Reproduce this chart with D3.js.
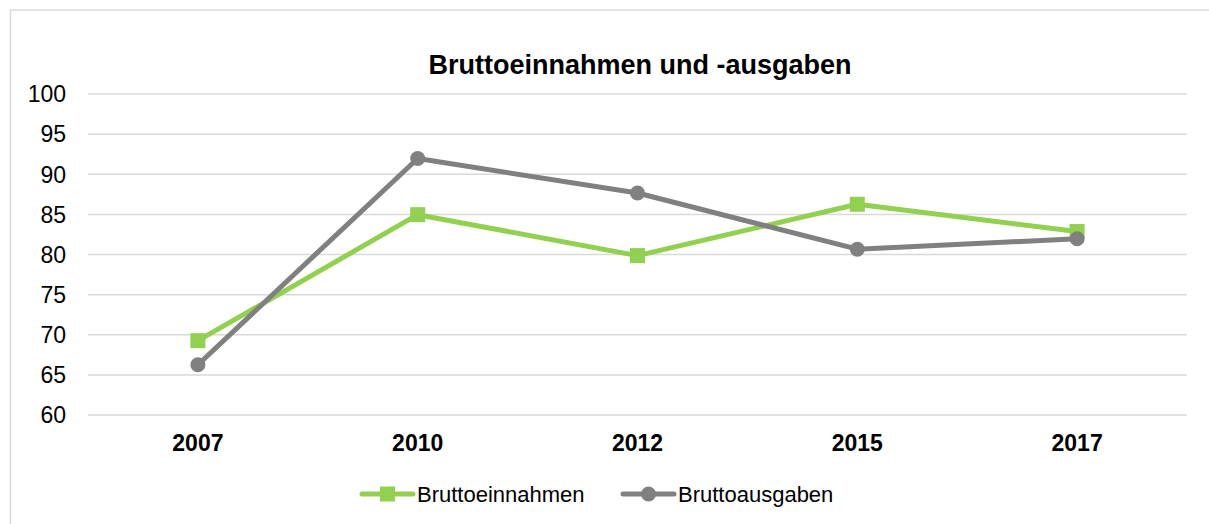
<!DOCTYPE html>
<html>
<head>
  <meta charset="utf-8">
  <script src="https://d3js.org/d3.v7.min.js"></script>
  <style>
    body { margin: 0; background: #fff; }
    text { font-family: "Liberation Sans", Arial, sans-serif; fill: #000; }
  </style>
</head>
<body>
  <script type="text/javascript">
    "use strict";

    // data
    var years = ["2007", "2010", "2012", "2015", "2017"];
    var einnahmen = [69.2, 84.9, 79.8, 86.2, 82.8];
    var ausgaben = [66.2, 91.9, 87.6, 80.6, 81.9];
    var yTicks = [60, 65, 70, 75, 80, 85, 90, 95, 100];
    var seriesNames = ["Bruttoeinnahmen", "Bruttoausgaben"];
    var seriesColors = ["#92D050", "#808080"];

    var W = 1209, H = 524;
    var plotLeft = 88, plotRight = 1187, plotTop = 93.5, plotBottom = 414.5;

    var svg = d3.select("body")
      .append("svg")
        .attr("width", W)
        .attr("height", H);

    // chart frame (only top and left are inside the window)
    svg.append("rect")
      .attr("x", 10.5).attr("y", 10)
      .attr("width", W + 20).attr("height", H + 20)
      .attr("fill", "none")
      .attr("stroke", "#d9d9d9")
      .attr("stroke-width", 1.5);

    svg.append("text")
      .attr("x", 640)
      .attr("y", 74)
      .attr("text-anchor", "middle")
      .style("font-size", "27px")
      .style("font-weight", "bold")
      .text("Bruttoeinnahmen und -ausgaben");

    var x = d3.scaleBand().domain(years).range([plotLeft, plotRight]);
    var y = d3.scaleLinear().domain([60, 100]).range([plotBottom, plotTop]);

    // y axis with gridlines
    var yAxis = svg.append("g")
      .attr("transform", "translate(" + plotLeft + ",0)")
      .call(d3.axisLeft(y).tickValues(yTicks).tickSize(-(plotRight - plotLeft)).tickPadding(22));
    yAxis.select(".domain").remove();
    yAxis.selectAll("line").attr("stroke", "#d9d9d9").attr("stroke-width", 1.5);
    yAxis.selectAll("text").style("font-size", "23px").attr("dy", "0.36em");

    // x axis
    var xAxis = svg.append("g")
      .attr("transform", "translate(0," + plotBottom + ")")
      .call(d3.axisBottom(x).tickSize(0).tickPadding(20));
    xAxis.select(".domain").remove();
    xAxis.selectAll("text").style("font-size", "23px").style("font-weight", "bold");

    var series = [einnahmen, ausgaben];
    var cx = function (d, i) { return x(years[i]) + x.bandwidth() / 2; };

    var line = d3.line()
      .x(function (d, i) { return cx(d, i); })
      .y(function (d) { return y(d); });

    series.forEach(function (vals, s) {
      var g = svg.append("g");
      g.append("path")
        .datum(vals)
        .attr("d", line)
        .attr("fill", "none")
        .attr("stroke", seriesColors[s])
        .attr("stroke-width", 5)
        .attr("stroke-linejoin", "round");

      if (s === 0) {
        g.selectAll("rect")
          .data(vals)
          .enter()
          .append("rect")
            .attr("x", function (d, i) { return cx(d, i) - 7.5; })
            .attr("y", function (d) { return y(d) - 7.5; })
            .attr("width", 15).attr("height", 15)
            .attr("fill", seriesColors[s]);
      } else {
        g.selectAll("circle")
          .data(vals)
          .enter()
          .append("circle")
            .attr("cx", function (d, i) { return cx(d, i); })
            .attr("cy", function (d) { return y(d); })
            .attr("r", 7.5)
            .attr("fill", seriesColors[s]);
      }
    });

    // legend
    var legendX = [362, 623];
    var legend = svg.selectAll(".legend")
      .data(seriesNames)
      .enter()
      .append("g")
        .attr("class", "legend")
        .attr("transform", function (d, i) { return "translate(" + legendX[i] + ",494)"; });

    legend.append("line")
      .attr("x1", 0).attr("x2", 51)
      .attr("stroke", function (d, i) { return seriesColors[i]; })
      .attr("stroke-width", 5)
      .attr("stroke-linecap", "round");

    legend.each(function (d, i) {
      var g = d3.select(this);
      if (i === 0) {
        g.append("rect")
          .attr("x", 18).attr("y", -7.5)
          .attr("width", 15).attr("height", 15)
          .attr("fill", seriesColors[i]);
      } else {
        g.append("circle")
          .attr("cx", 25.5).attr("r", 7.5)
          .attr("fill", seriesColors[i]);
      }
    });

    legend.append("text")
      .attr("x", 55)
      .attr("dy", "0.36em")
      .style("font-size", "22px")
      .text(function (d) { return d; });
  </script>
</body>
</html>
